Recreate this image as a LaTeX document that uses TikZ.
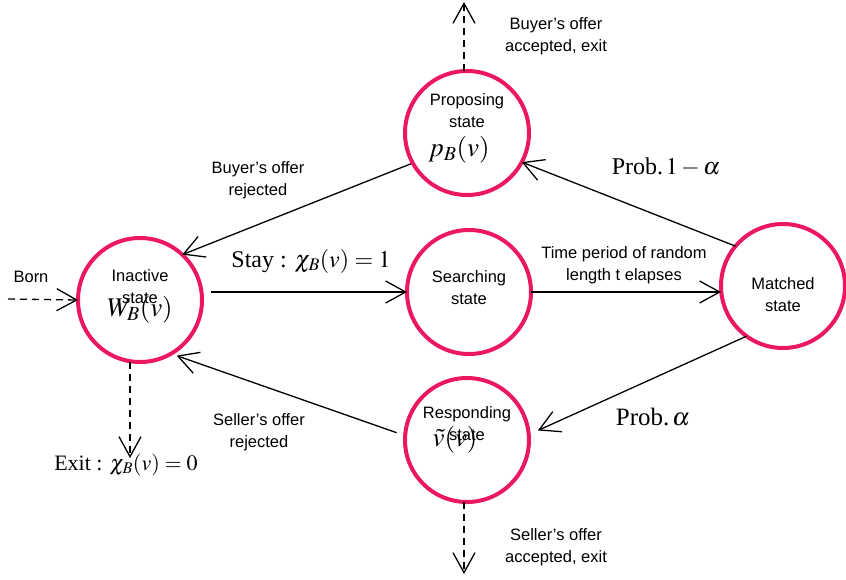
\documentclass[tikz,border=0pt]{standalone}
\usepackage{mathptmx}
\usepackage{fontspec}
\setmainfont{Liberation Serif}
\setsansfont{Liberation Sans}
\usepackage{xcolor}
\usepackage{tikz}
\usetikzlibrary{arrows.meta,calc}
\definecolor{statepink}{RGB}{236,23,99}
\tikzset{
	state/.style={circle,draw=statepink,line width=4pt,minimum size=124pt,inner sep=0pt,outer sep=0pt},
	flow/.style={-{Straight Barb[length=20pt,width=22pt,line width=1.3pt]},line width=1.3pt},
	exitflow/.style={flow,dash pattern=on 7pt off 5pt},
	note/.style={font=\fontsize{16.5}{22}\selectfont\sffamily,align=center,inner sep=0pt},
	mathnote/.style={font=\fontsize{22}{24}\selectfont,inner sep=0pt},
}
\begin{document}
\begin{tikzpicture}[x=1pt,y=-1pt]
		\useasboundingbox (0,0) rectangle (846,579);
		\node[state] (inactive) at (140,300) {};
		\node[state] (proposing) at (467,133) {};
		\node[state] (searching) at (469,292) {};
		\node[state] (matched) at (783,286) {};
		\node[state] (responding) at (467,440) {};
		% texts in the states
		\node[note] (inactivetxt) at (140,287) {Inactive\\state};
		\node[mathnote,font=\fontsize{27}{28}\selectfont] (inactivew) at (140,310) {$W_B(v)$};
		\node[note] (proposingtxt) at (467,111) {Proposing\\state};
		\node[mathnote,font=\fontsize{27}{28}\selectfont] (proposingp) at (459,150) {$p_B(v)$};
		\node[note] (searchingtxt) at (469,288) {Searching\\state};
		\node[note] (matchedtxt) at (783,295) {Matched\\state};
		\node[note] (respondingtxt) at (467,424) {Responding\\state};
		\node[mathnote,font=\fontsize{27}{28}\selectfont] (respondingv) at (455,440) {$\tilde{v}(v)$};
		% free ends
		\coordinate (born) at (8,299);
		\coordinate (buyexit) at (464,2);
		\coordinate (sellexit) at (464,574);
		\coordinate (exitpt) at (130,458);
		\draw[exitflow] (born) -- (inactive.west);
		\draw[exitflow] (proposing.north -| buyexit) -- (buyexit);
		\draw[exitflow] (responding.south -| sellexit) -- (sellexit);
		\draw[exitflow] (inactive.south -| exitpt) -- (exitpt);
		\draw[flow,shorten <=9pt] (inactive.east |- searching) -- (searching.west);
		\draw[flow] (searching.east) -- (searching.east -| matched.west);
		\draw[flow] (matched.140) -- (proposing.-28);
		\draw[flow,shorten <=2pt] (proposing.209) -- (inactive.47);
		\draw[flow,shorten >=10pt] (matched.234) -- (responding.5);
		\draw[flow,shorten <=9pt,shorten >=6pt] (responding.176) -- (inactive.-60);
		% labels
		\node[note] (bornlbl) at (31,277) {Born};
		\node[mathnote,font=\fontsize{24}{26}\selectfont] (staylbl) at (311,261) {Stay : $\chi_B(v)=1$};
		\node[mathnote] (exitlbl) at (126,465) {Exit : $\chi_B(v)=0$};
		\node[note] (buyacc) at (556,36) {Buyer's offer\\accepted, exit};
		\node[note] (sellacc) at (556,547) {Seller's offer\\accepted, exit};
		\node[note] (buyrej) at (258,180) {Buyer's offer\\rejected};
		\node[note] (sellrej) at (259,432) {Seller's offer\\rejected};
		\node[note] (timelbl) at (624,265) {Time period of random\\length t elapses};
		\node[mathnote,font=\fontsize{24}{26}\selectfont] (probhigh) at (666,167) {Prob.$\,1-\alpha$};
		\node[mathnote,font=\fontsize{25}{26}\selectfont] (problow) at (653,417) {Prob.$\,\alpha$};
\end{tikzpicture}
\end{document}
